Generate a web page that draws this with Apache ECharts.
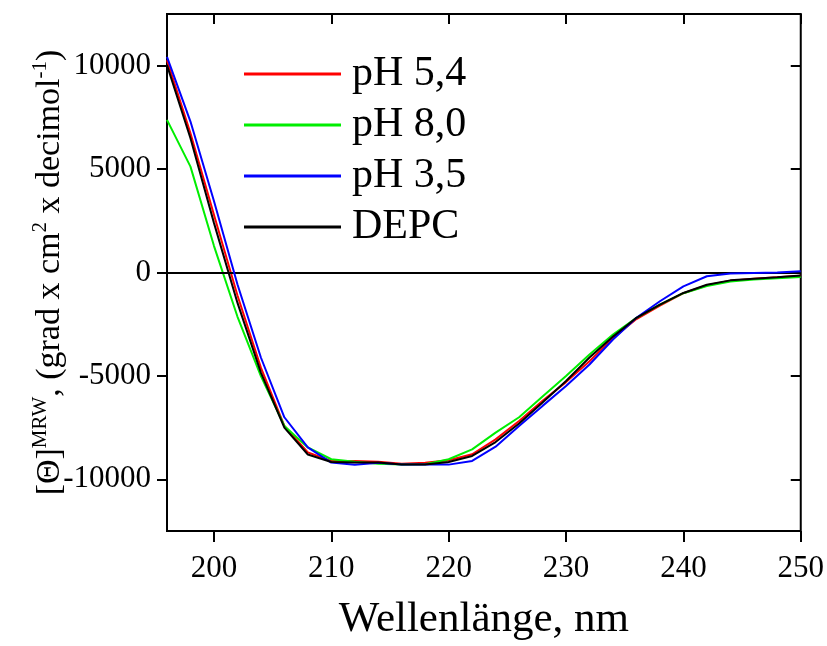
<!DOCTYPE html>
<html>
<head>
<meta charset="utf-8">
<script src="https://cdn.jsdelivr.net/npm/echarts@6/dist/echarts.min.js"></script>
<style>
  html, body { margin: 0; padding: 0; background: #fff; }
  #chart { width: 827px; height: 646px; }
</style>
</head>
<body>
<div id="chart"></div>
<script>
// Wellenlänge (nm), alle 2 nm
const wavelength = [196, 198, 200, 202, 204, 206, 208, 210, 212, 214, 216, 218, 220, 222,
                    224, 226, 228, 230, 232, 234, 236, 238, 240, 242, 244, 246, 248, 250];

const ph54 = [10270, 6730, 2790, -1100, -4600, -7420, -8700, -9110, -9110, -9150, -9250, -9200, -9080, -8790,
              -8070, -7180, -6200, -5300, -4290, -3160, -2250, -1600, -1000, -620, -400, -300, -230, -160];
const ph80 = [7380, 5120, 1290, -2130, -5010, -7420, -8460, -9030, -9150, -9250, -9290, -9270, -9030, -8550,
              -7740, -7000, -6000, -5010, -3960, -3000, -2190, -1550, -1000, -650, -440, -340, -280, -220];
const ph35 = [10430, 7300, 3460, -570, -4110, -7000, -8460, -9190, -9300, -9200, -9290, -9290, -9290, -9110,
              -8420, -7420, -6450, -5490, -4450, -3240, -2190, -1390, -670, -180, -50, -20, 0, 60];
const depc = [10030, 6490, 2400, -1460, -4840, -7500, -8800, -9160, -9190, -9190, -9290, -9290, -9160, -8870,
              -8200, -7300, -6290, -5250, -4110, -3100, -2190, -1550, -990, -590, -380, -300, -230, -150];

const seriesNames = ['pH 5,4', 'pH 8,0', 'pH 3,5', 'DEPC'];
const seriesColors = ['#ff0000', '#00ee00', '#0000ff', '#000000'];
const seriesValues = [ph54, ph80, ph35, depc];

const FONT = 'Liberation Serif';

function pairs(ys) {
    return wavelength.map((x, i) => [x, ys[i]]);
}

const chart = echarts.init(document.getElementById('chart'));

// Rahmen kommt vom grid, die Achsen liefern nur Ticks und Beschriftung
const noLine = { show: false, onZero: false };
function ticks(inside, len) {
    return { show: true, inside: inside, length: len, lineStyle: { color: '#000', width: 2 } };
}
// unsichtbare Gitterlinien
const hiddenSplit = { show: true, lineStyle: { color: 'rgba(0,0,0,0)', width: 0 } };
const plain = v => String(v);

const series = seriesValues.map((vals, i) => ({
    name: seriesNames[i],
    type: 'line',
    data: pairs(vals),
    showSymbol: false,
    symbol: 'none',
    lineStyle: { color: seriesColors[i], width: 2 },
    itemStyle: { color: seriesColors[i] },
    z: 3 + i
}));

// Nulllinie
series[0].markLine = {
    silent: true,
    symbol: 'none',
    label: { show: false },
    lineStyle: { color: '#000', width: 2, type: 'solid' },
    data: [{ yAxis: 0 }]
};

const option = {
    animation: false,
    grid: {
        left: 167, right: 24, top: 14, bottom: 114,
        show: true, borderColor: '#000', borderWidth: 2, backgroundColor: 'transparent'
    },
    legend: {
        orient: 'vertical',
        left: 239,
        top: 48,
        icon: 'rect',
        itemWidth: 97,
        itemHeight: 3,
        itemGap: 9,
        data: seriesNames,
        textStyle: { fontFamily: FONT, fontSize: 42, lineHeight: 42, color: '#000', padding: [0, 0, 0, 6] }
    },
    xAxis: [{
        type: 'value',
        position: 'bottom',
        min: 196,
        max: 250,
        name: 'Wellenlänge, nm',
        nameLocation: 'middle',
        nameGap: 67,
        nameMoveOverlap: false,
        nameTextStyle: { fontFamily: FONT, fontSize: 43, color: '#000' },
        axisLine: noLine,
        axisTick: ticks(false, 11),
        axisLabel: { fontFamily: FONT, fontSize: 31, color: '#000', margin: 22, showMinLabel: false, formatter: plain },
        splitLine: hiddenSplit
    }, {
        type: 'value',
        position: 'top',
        min: 196,
        max: 250,
        axisLine: noLine,
        axisTick: ticks(true, 10),
        axisLabel: { show: false },
        splitLine: hiddenSplit
    }],
    yAxis: [{
        type: 'value',
        position: 'left',
        min: -12500,
        max: 12500,
        name: '[Θ]{sup|MRW}, (grad x cm{sup|2} x decimol{sup|-1})',
        nameLocation: 'middle',
        nameRotate: 90,
        nameGap: 97,
        nameMoveOverlap: false,
        nameTextStyle: {
            fontFamily: FONT, fontSize: 34, color: '#000', lineHeight: 40,
            rich: {
                sup: { fontFamily: FONT, fontSize: 21, color: '#000', verticalAlign: 'top', lineHeight: 30 }
            }
        },
        axisLine: noLine,
        axisTick: ticks(false, 10),
        axisLabel: { fontFamily: FONT, fontSize: 31, color: '#000', margin: 16, showMinLabel: false, showMaxLabel: false, formatter: plain },
        splitLine: hiddenSplit
    }, {
        type: 'value',
        position: 'right',
        min: -12500,
        max: 12500,
        axisLine: noLine,
        axisTick: ticks(true, 10),
        axisLabel: { show: false },
        splitLine: hiddenSplit
    }],
    series: series
};

chart.setOption(option);
</script>
</body>
</html>
